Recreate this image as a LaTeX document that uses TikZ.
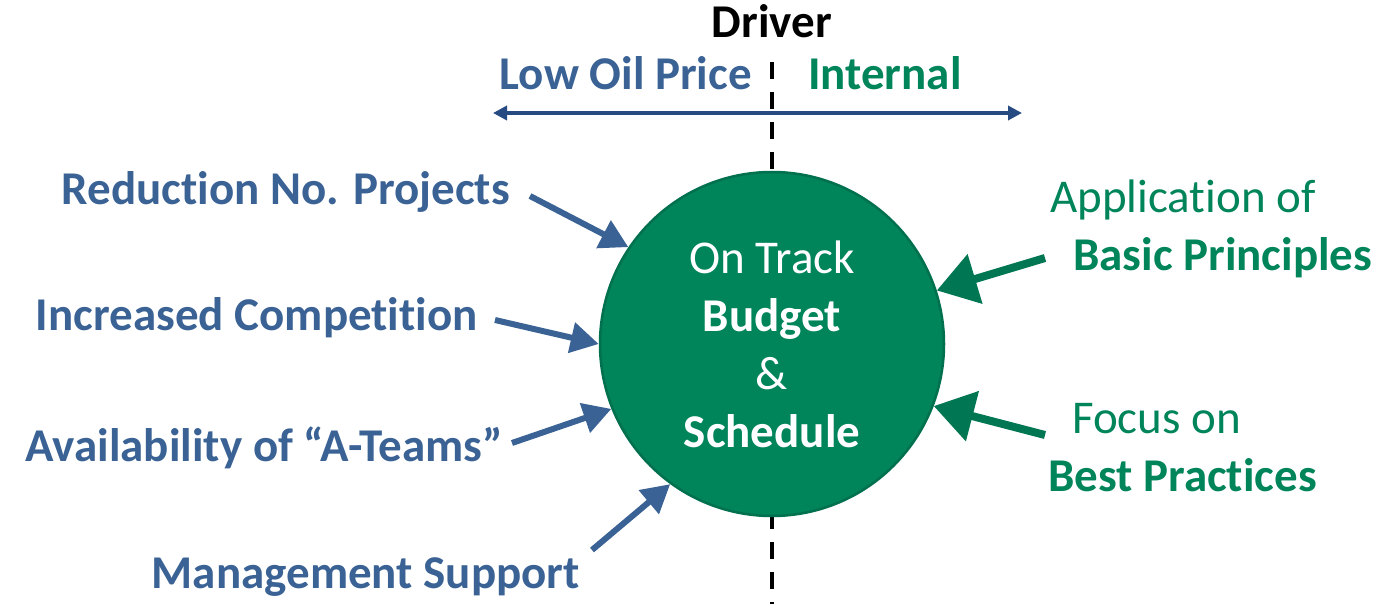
\documentclass[tikz,border=0pt]{standalone}
\usepackage{fontspec}
\setmainfont{Carlito}[Ligatures=NoCommon]
\RequirePackage{xcolor}
\definecolor{driverblue}{RGB}{58,98,148}
\definecolor{drivergreen}{RGB}{0,132,90}
\definecolor{rimgreen}{RGB}{0,112,78}
\definecolor{axisblue}{RGB}{38,74,130}
\definecolor{pullgreen}{RGB}{0,118,82}
\usetikzlibrary{arrows.meta}

\begin{document}
\begin{tikzpicture}[x=1pt, y=-1pt,
  bigtext/.style={font=\fontsize{47}{58}\selectfont, inner sep=0pt},
  factor/.style={bigtext, font=\fontsize{47}{58}\selectfont\bfseries, text=driverblue},
  effort/.style={bigtext, text=drivergreen},
  push/.style={draw=driverblue, line width=6pt, -{Triangle[length=28pt,width=30pt]}},
  pull/.style={draw=pullgreen, line width=8pt, -{Triangle[length=40pt,width=50pt]}}]

  \useasboundingbox (0,0) rectangle (1382,604);

  \coordinate (dtop) at (772,62);
  \coordinate (dbot) at (772,604);
  \coordinate (axisleft) at (493,113);
  \coordinate (axisright) at (1022,113);

  \draw [line width=3.5pt, dash pattern=on 17pt off 13pt] (dtop) -- (dbot);
  \draw [axisblue, line width=4pt, {Triangle[length=14pt,width=14pt]}-{Triangle[length=14pt,width=14pt]}] (axisleft) -- (axisright);

  \node (driver) [bigtext, font=\fontsize{47}{58}\selectfont\bfseries, anchor=base] at (772,38) {Driver};
  \node (lowoil) [factor, anchor=base east] at (752,90) {Low Oil Price};
  \node (internal) [effort, font=\fontsize{47}{58}\selectfont\bfseries, anchor=base west] at (808,90) {Internal};

  \node (track) [circle, minimum size=344pt, inner sep=0pt, fill=drivergreen, draw=rimgreen, line width=2.5pt,
    text=white, align=center, font=\fontsize{47}{58}\selectfont] at (772,344)
    {On Track\\ \textbf{Budget}\\ \&\\ \textbf{Schedule}};

  \node (reduction) [factor, anchor=base east] at (510,205) {Reduction No. Projects};
  \node (competition) [factor, anchor=base east] at (478,330) {Increased Competition};
  \node (ateams) [factor, anchor=base east] at (503,461) {Availability of “A-Teams”};
  \node (management) [factor, anchor=base east] at (580,588) {Management Support};

  \node (application) [effort, anchor=base west] at (1050,213) {Application of};
  \node (basic) [effort, font=\fontsize{47}{58}\selectfont\bfseries, anchor=base west] at (1073,271) {Basic Principles};
  \node (focus) [effort, anchor=base west] at (1072,433) {Focus on};
  \node (best) [effort, font=\fontsize{47}{58}\selectfont\bfseries, anchor=base west] at (1048,491) {Best Practices};

  \draw [push] ([shift={(20,-9)}]reduction.base east) -- (track.146);
  \draw [push] ([shift={(17,-10)}]competition.base east) -- (track.180);
  \draw [push] ([shift={(9,-18)}]ateams.base east) -- (track.202);
  \draw [push] ([shift={(12,-38)}]management.base east) -- (track.234);

  \draw [pull] ([shift={(-28,-13)}]basic.base west) -- (track.18);
  \draw [pull] ([shift={(-27,2)}]focus.base west) -- (track.-21);
\end{tikzpicture}
\end{document}
